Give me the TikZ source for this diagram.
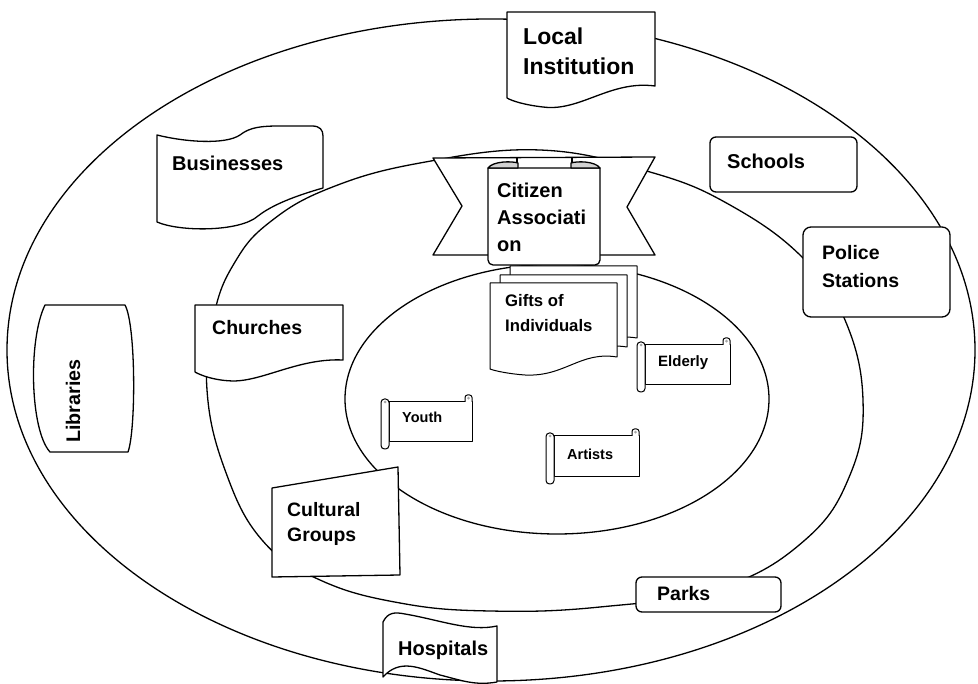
\documentclass[tikz,border=0pt]{standalone}
\usepackage{fontspec}
\setmainfont{Liberation Sans}
\newcommand\myscroll[4]{%
  \draw[thinb] (#1,#2) rectangle (#3,#4);
  \draw[thinb, rounded corners=2.5] ({#3-7},#2) -- ({#3-7},{#2-7}) -- (#3,{#2-7}) -- (#3,#2);
  \fill[gray!70] ({#3-3.5},{#2-3.8}) circle (1.5);
  \draw[thinb, rounded corners=3.5] (#1,{#2-3}) rectangle ({#1-8},{#4+7});
  \fill[gray!70] ({#1-4},{#2}) circle (1.5);
}
\begin{document}
\begin{tikzpicture}[x=1pt,y=-1pt,line join=round,
  ln/.style={line width=1.3pt, draw=black},
  shp/.style={line width=1.3pt, draw=black, fill=white},
  thinb/.style={line width=1pt, draw=black, fill=white},
  lab/.style={anchor=base west, inner sep=0pt, font=\bfseries\fontsize{#1}{#1}\selectfont},
]
\useasboundingbox (0,0) rectangle (978,684);
\fill[white] (0,0) rectangle (978,684);

% ellipses
\draw[ln] (491,350) ellipse [x radius=484, y radius=331];
\draw[ln] plot[smooth cycle, tension=0.7] coordinates {
  (207,390) (214,315) (235,262) (270,222) (330,188) (420,163) (540,150)
  (650,172) (730,205) (803,258) (845,320) (863,400) (850,475) (805,540)
  (720,588) (600,607) (490,611) (400,603) (320,580) (262,540) (225,470)};
\draw[ln] (557,399) ellipse [x radius=212, y radius=135];

% Local Institution (document)
\draw[shp] (507,12) -- (655,12) -- (655,86)
  .. controls (610,80) and (580,112) .. (543,107)
  .. controls (525,105) and (512,101) .. (507,98) -- cycle;
\node[lab=23] (li1) at (523,45) {Local};
\node[lab=23] (li2) at (523,75) {Institution};

% Businesses (punched tape)
\draw[shp] (157,135) .. controls (185,142) and (225,145) .. (240,135)
  .. controls (250,127) and (262,126) .. (280,126) -- (312,126)
  .. controls (320,126) and (323,130) .. (323,136) -- (323,188)
  .. controls (295,196) and (272,205) .. (258,216)
  .. controls (240,232) and (180,232) .. (157,222) -- cycle;
\node[lab=20] (bus) at (172,171) {Businesses};

% Schools
\draw[shp, rounded corners=6] (710,137) rectangle (857,192);
\node[lab=20] (sch) at (727,169) {Schools};

% Police Stations
\draw[shp, rounded corners=8] (803,227) rectangle (950,317);
\node[lab=19.5] (po1) at (822,260) {Police};
\node[lab=19.5] (po2) at (822,288) {Stations};

% Citizen Association (ribbon)
\draw[shp] (433,158) -- (655,157) -- (627,207) -- (655,255) -- (433,255) -- (462,206) -- cycle;
\draw[ln] (517,158) -- (517,170);
\draw[ln] (572,158) -- (572,170);
\draw[shp] (488,168) [rounded corners=5] -- (488,265) -- (600,265) [sharp corners] -- (600,168) -- cycle;
\draw[ln, fill=gray!35] (488,168) .. controls (493,161) and (512,161) .. (518,163) -- (518,168) -- cycle;
\draw[ln, fill=gray!35] (571,163) .. controls (577,161) and (595,161) .. (600,168) -- (571,168) -- cycle;
\node[lab=20] (ci1) at (497,198) {Citizen};
\node[lab=20] (ci2) at (497,225) {Associati};
\node[lab=20] (ci3) at (497,252) {on};

% Gifts of Individuals (multi document)
\draw[thinb] (510,266) -- (637,266) -- (637,338)
  .. controls (600,332) and (585,358) .. (545,356) .. controls (530,355) and (515,352) .. (510,350) -- cycle;
\draw[thinb] (500,275) -- (627,275) -- (627,347)
  .. controls (590,341) and (575,367) .. (535,365) .. controls (520,364) and (505,361) .. (500,359) -- cycle;
\draw[thinb] (490,283) -- (617,283) -- (617,357)
  .. controls (580,351) and (565,377) .. (525,375) .. controls (510,374) and (495,371) .. (490,369) -- cycle;
\node[lab=16.7] (gi1) at (505,307) {Gifts of};
\node[lab=16.7] (gi2) at (505,332) {Individuals};

% Churches (document)
\draw[shp] (195,305) -- (343,305) -- (343,360)
  .. controls (300,358) and (265,380) .. (235,381)
  .. controls (215,381) and (200,375) .. (195,372) -- cycle;
\node[lab=19.5] (chu) at (212,335) {Churches};

% Libraries
\draw[shp] (45,305) -- (125,305) .. controls (136,325) and (136,430) .. (128,452)
  -- (50,452) .. controls (30,430) and (28,340) .. (45,305) -- cycle;
\node[anchor=base, inner sep=0pt, rotate=90, font=\bfseries\fontsize{19.7}{19.7}\selectfont] (lib) at (80,401) {Libraries};

% Cultural Groups
\draw[shp] (272,488) -- (398,467) -- (400,575) -- (272,577) -- cycle;
\node[lab=19.4] (cu1) at (287,517) {Cultural};
\node[lab=19.4] (cu2) at (287,542) {Groups};

% Hospitals (wave)
\draw[shp] (383,622) .. controls (388,612) and (395,612) .. (405,614)
  .. controls (440,620) and (470,632) .. (497,626) -- (497,682)
  .. controls (475,686) and (460,680) .. (440,675)
  .. controls (420,668) and (400,658) .. (383,677) -- cycle;
\node[lab=20] (hos) at (398,655) {Hospitals};

% Parks
\draw[shp, rounded corners=6] (636,577) rectangle (781,612);
\node[lab=19.5] (par) at (657,600) {Parks};

% scrolls
\myscroll{645}{345}{730}{385}
\node[lab=15] (eld) at (658,367) {Elderly};
\myscroll{389}{402}{472}{442}
\node[lab=14.5] (you) at (402,423) {Youth};
\myscroll{554}{436}{639}{477}
\node[lab=14.5] (art) at (567,460) {Artists};
\end{tikzpicture}
\end{document}
